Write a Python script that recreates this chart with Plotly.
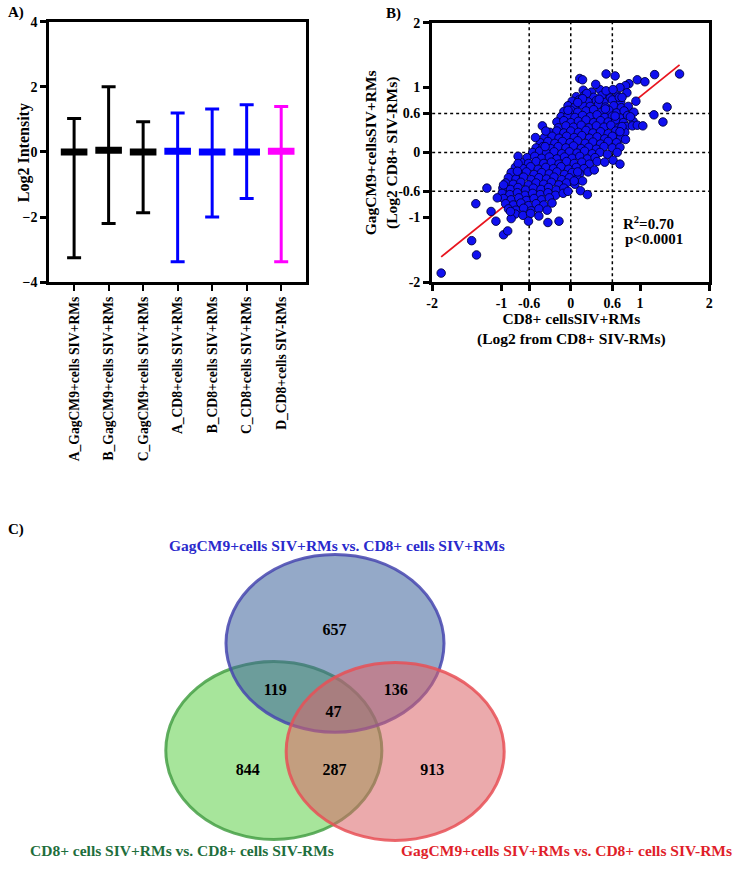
import plotly.graph_objects as go

W, H = 740, 870
FONT = "Liberation Serif"

# ---------------- Panel A data ----------------
a_categories = ["A_GagCM9+cells SIV+RMs", "B_GagCM9+cells SIV+RMs", "C_GagCM9+cells SIV+RMs",
                "A_CD8+cells SIV+RMs", "B_CD8+cells SIV+RMs", "C_CD8+cells SIV+RMs",
                "D_CD8+cells SIV-RMs"]
a_mean = [0.0, 0.05, 0.0, 0.02, 0.0, 0.0, 0.02]
a_max = [1.03, 2.0, 0.93, 1.2, 1.32, 1.45, 1.4]
a_min = [-3.25, -2.2, -1.87, -3.37, -2.0, -1.43, -3.37]
a_colors = ["#000000", "#000000", "#000000", "#0000ff", "#0000ff", "#0000ff", "#ff00ff"]
a_ticks = [-4, -2, 0, 2, 4]

# ---------------- Panel B data ----------------
b_ticks = [-2, -1, -0.6, 0, 0.6, 1, 2]
b_ticktext = ["-2", "-1", "-0.6", "0", "0.6", "1", "2"]
b_refs = [-0.6, 0, 0.6]
fit_x = [-1.87, 1.57]
fit_y = [-1.61, 1.35]

blob_x = [
    0.18, 0.3, 0.42, 0.55,
    0.08, 0.2, 0.33, 0.45, 0.57, 0.68,
    0.02, 0.12, 0.25, 0.37, 0.48, 0.6, 0.72,
    -0.04, 0.06, 0.17, 0.28, 0.4, 0.5, 0.62, 0.73, 0.83,
    -0.1, 0.0, 0.1, 0.22, 0.33, 0.44, 0.55, 0.66, 0.77,
    -0.14, -0.04, 0.06, 0.17, 0.28, 0.38, 0.49, 0.6, 0.71, 0.82,
    -0.2, -0.1, 0.0, 0.11, 0.22, 0.33, 0.43, 0.54, 0.65, 0.76, 0.9,
    -0.18, -0.07, 0.04, 0.15, 0.26, 0.37, 0.48, 0.58, 0.69, 0.8,
    -0.3, -0.2, -0.1, 0.0, 0.11, 0.22, 0.32, 0.43, 0.54, 0.65, 0.78,
    -0.38, -0.27, -0.17, -0.06, 0.05, 0.16, 0.27, 0.38, 0.49, 0.6, 0.72,
    -0.44, -0.33, -0.23, -0.12, -0.01, 0.1, 0.21, 0.32, 0.43, 0.54, 0.66,
    -0.5, -0.4, -0.29, -0.18, -0.07, 0.04, 0.15, 0.26, 0.37, 0.48, 0.6,
    -0.55, -0.45, -0.35, -0.24, -0.13, -0.02, 0.09, 0.2, 0.31, 0.42, 0.53,
    -0.63, -0.52, -0.42, -0.31, -0.2, -0.09, 0.02, 0.13, 0.24, 0.35,
    -0.72, -0.61, -0.5, -0.39, -0.28, -0.17, -0.06, 0.05, 0.16, 0.27, 0.38,
    -0.8, -0.69, -0.58, -0.47, -0.36, -0.25, -0.14, -0.03, 0.08, 0.19,
    -0.86, -0.75, -0.64, -0.53, -0.42, -0.31, -0.2, -0.09, 0.02, 0.13, 0.25,
    -0.9, -0.79, -0.68, -0.57, -0.46, -0.35, -0.24, -0.13, -0.02, 0.1,
    -0.94, -0.83, -0.72, -0.61, -0.5, -0.39, -0.28, -0.17, -0.06, 0.06,
    -0.98, -0.87, -0.76, -0.65, -0.54, -0.43, -0.32, -0.21, -0.1,
    -0.99, -0.88, -0.77, -0.66, -0.55, -0.44, -0.33, -0.22, -0.11,
    -0.97, -0.86, -0.75, -0.64, -0.53, -0.42, -0.31,
    -0.94, -0.83, -0.72, -0.61, -0.5, -0.39, -0.27,
    -0.9, -0.79, -0.68, -0.57, -0.46, -0.34,
    -0.8, -0.69, -0.58, -0.46,
]
blob_y = [
    0.96, 0.93, 0.97, 0.9,
    0.86, 0.88, 0.85, 0.88, 0.84, 0.87,
    0.79, 0.81, 0.78, 0.8, 0.77, 0.81, 0.78,
    0.72, 0.7, 0.73, 0.71, 0.74, 0.7, 0.72, 0.69, 0.71,
    0.63, 0.65, 0.62, 0.64, 0.66, 0.62, 0.65, 0.61, 0.64,
    0.55, 0.57, 0.54, 0.57, 0.55, 0.58, 0.54, 0.56, 0.53, 0.57,
    0.47, 0.49, 0.46, 0.48, 0.5, 0.46, 0.49, 0.47, 0.5, 0.46, 0.48,
    0.38, 0.41, 0.39, 0.42, 0.38, 0.41, 0.39, 0.42, 0.38, 0.4,
    0.31, 0.33, 0.3, 0.33, 0.31, 0.34, 0.3, 0.32, 0.29, 0.33, 0.31,
    0.23, 0.25, 0.22, 0.25, 0.23, 0.26, 0.22, 0.24, 0.21, 0.25, 0.22,
    0.15, 0.17, 0.14, 0.17, 0.15, 0.18, 0.14, 0.16, 0.13, 0.17, 0.15,
    0.07, 0.09, 0.06, 0.09, 0.07, 0.1, 0.06, 0.08, 0.05, 0.09, 0.07,
    0.0, 0.02, -0.01, 0.01, -0.02, 0.01, -0.01, 0.02, -0.02, 0.0, -0.03,
    -0.08, -0.06, -0.09, -0.07, -0.1, -0.07, -0.09, -0.06, -0.1, -0.08,
    -0.15, -0.17, -0.14, -0.17, -0.15, -0.18, -0.14, -0.17, -0.15, -0.18, -0.14,
    -0.23, -0.25, -0.22, -0.26, -0.23, -0.25, -0.22, -0.26, -0.23, -0.25,
    -0.31, -0.33, -0.3, -0.34, -0.31, -0.33, -0.3, -0.34, -0.31, -0.33, -0.3,
    -0.39, -0.41, -0.38, -0.42, -0.39, -0.41, -0.38, -0.42, -0.39, -0.41,
    -0.47, -0.49, -0.46, -0.5, -0.47, -0.49, -0.46, -0.5, -0.47, -0.49,
    -0.55, -0.57, -0.54, -0.58, -0.55, -0.57, -0.54, -0.58, -0.55,
    -0.63, -0.65, -0.62, -0.66, -0.63, -0.65, -0.62, -0.66, -0.63,
    -0.71, -0.73, -0.7, -0.74, -0.71, -0.73, -0.7,
    -0.79, -0.81, -0.78, -0.82, -0.79, -0.81, -0.78,
    -0.87, -0.89, -0.86, -0.9, -0.87, -0.89,
    -0.95, -0.97, -0.94, -0.98,
]
outlier_x = [
    0.13, 0.17, 0.51, 0.64, 0.36, 0.96, 1.07, 1.21, 1.57, 0.84, 0.79, 0.71, 0.51, 0.61,
    0.81, 0.7, 0.74, 0.23, 0.41, 0.94, 1.39, 0.91, 1.2, 0.86, 1.33, 0.89, 0.96, 1.04,
    0.74, 0.17, 0.1, 0.5, 0.64, 0.71, 0.79, 0.71, 0.67,
    0.61, 0.49, 0.71, 0.34, 0.14, 0.24, -0.04, 0.17, 0.05, 0.1,
    -0.17, -0.33, -0.61, -0.97, -0.91, -1.08, -1.15, -1.37, -1.21, -0.97, -1.06, -0.86,
    -0.87, -1.87, -1.36, -1.43,
    -0.76, -0.76, -0.77, -0.51, -0.41, -0.36, -0.37, -0.04,
]
outlier_y = [
    1.14, 1.12, 1.21, 1.18, 1.05, 1.12, 1.09, 1.2, 1.21, 1.06, 1.03, 1.0, 0.95, 0.97,
    0.92, 0.85, 0.85, 0.91, 0.82, 0.79, 0.7, 0.62, 0.58, 0.55, 0.47, 0.41, 0.42, 0.41,
    0.4, 0.83, 0.77, 0.67, 0.56, 0.32, 0.2, 0.08, 0.0,
    -0.12, -0.15, -0.18, -0.27, -0.59, -0.65, -0.6, -0.44, -0.44, -0.3,
    -1.06, -1.08, -1.06, -1.27, -1.21, -1.06, -0.91, -0.79, -0.55, -0.5, -0.7, -1.02,
    -0.91, -1.86, -1.58, -1.36,
    -0.06, -0.17, -0.29, 0.23, 0.41, 0.33, 0.09, 0.65,
]
b_x = blob_x + outlier_x
b_y = blob_y + outlier_y
b_r2 = "R<sup>2</sup>=0.70"
b_p = "p<0.0001"

# ---------------- Panel C (Venn) data ----------------
venn_sets = ["GagCM9+cells SIV+RMs vs. CD8+ cells SIV+RMs",
             "CD8+ cells SIV+RMs vs. CD8+ cells SIV-RMs",
             "GagCM9+cells SIV+RMs vs. CD8+ cells SIV-RMs"]
venn_counts = [657, 119, 136, 47, 844, 287, 913]

# ---------------- layout helpers (pixel -> paper) ----------------
def fx(px):
    return px / W

def fy(py):
    return 1 - py / H

bold = dict(family=FONT, color="black", weight="bold")

fig = go.Figure()

# Panel A traces
for i, cat in enumerate(a_categories):
    fig.add_trace(go.Scatter(
        x=[cat], y=[a_mean[i]], mode="markers", xaxis="x", yaxis="y", showlegend=False,
        marker=dict(symbol="line-ew", size=19, color=a_colors[i],
                    line=dict(width=7, color=a_colors[i])),
        error_y=dict(type="data", symmetric=False, array=[a_max[i] - a_mean[i]],
                     arrayminus=[a_mean[i] - a_min[i]], color=a_colors[i],
                     thickness=3, width=7),
        hoverinfo="skip"))

# Panel B traces
fig.add_trace(go.Scatter(x=fit_x, y=fit_y, mode="lines", xaxis="x2", yaxis="y2",
                         line=dict(color="#e8141e", width=1.8), showlegend=False))
fig.add_trace(go.Scatter(x=b_x, y=b_y, mode="markers", xaxis="x2", yaxis="y2",
                         marker=dict(size=8.5, color="#1010f0",
                                     line=dict(width=0.9, color="#000040")),
                         showlegend=False))

# Panel C: Venn
venn_geom = {  # pixel layout: (cx, cy, rx, ry)
    "blue": (333.5, 647.5, 110.5, 90.5),
    "green": (271.5, 756.5, 109.5, 90.5),
    "red": (394.5, 757.5, 110.5, 90.5),
}
venn_style = {
    "green": ("rgba(95,208,73,0.55)", "rgba(70,160,70,0.85)"),
    "blue": ("rgba(61,99,155,0.55)", "rgba(70,70,175,0.85)"),
    "red": ("rgba(219,100,104,0.55)", "rgba(232,80,86,0.85)"),
}
shapes = []
for key in ["green", "blue", "red"]:
    cx, cy, rx, ry = venn_geom[key]
    fill, line = venn_style[key]
    shapes.append(dict(type="circle", xref="x3", yref="y3", x0=cx - rx, x1=cx + rx,
                       y0=cy - ry, y1=cy + ry, fillcolor=fill,
                       line=dict(color=line, width=3), layer="below"))

count_pos_x = [333, 273, 395, 332, 245, 333, 432]
count_pos_y = [635, 696, 696, 718, 777, 777, 777]
fig.add_trace(go.Scatter(x=count_pos_x, y=count_pos_y, mode="text", xaxis="x3", yaxis="y3",
                         text=[str(c) for c in venn_counts],
                         textfont=dict(family=FONT, size=16, color="black", weight="bold"),
                         showlegend=False, hoverinfo="skip"))

# Panel B dotted reference lines
for v in b_refs:
    shapes.append(dict(type="line", xref="x2", yref="y2 domain", x0=v, x1=v, y0=0, y1=1,
                       line=dict(color="black", width=1.5, dash="dot"), layer="below"))
    shapes.append(dict(type="line", xref="x2 domain", yref="y2", x0=0, x1=1, y0=v, y1=v,
                       line=dict(color="black", width=1.5, dash="dot"), layer="below"))

axis_common = dict(showline=True, linewidth=3, linecolor="black", mirror=True,
                   showgrid=False, zeroline=False, ticks="outside", tickcolor="black")

annotations = [
    dict(text="A)", x=fx(0), y=fy(6), xref="paper", yref="paper", xanchor="left",
         yanchor="middle", showarrow=False, font=dict(bold, size=15)),
    dict(text="B)", x=fx(383), y=fy(7), xref="paper", yref="paper", xanchor="left",
         yanchor="middle", showarrow=False, font=dict(bold, size=15)),
    dict(text="C)", x=fx(0), y=fy(532), xref="paper", yref="paper", xanchor="left",
         yanchor="middle", showarrow=False, font=dict(bold, size=15)),
    dict(text="Log2 Intensity", x=fx(19), y=fy(148), xref="paper", yref="paper",
         textangle=-90, showarrow=False, xanchor="center", yanchor="middle",
         font=dict(bold, size=16)),
    dict(text="GagCM9+cellsSIV+RMs<br>(Log2 CD8+ SIV-RMs)", x=fx(381), y=fy(148),
         xref="paper", yref="paper", textangle=-90, showarrow=False, xanchor="center",
         yanchor="middle", font=dict(bold, size=15.5)),
    dict(text="CD8+ cellsSIV+RMs<br>(Log2 from CD8+ SIV-RMs)", x=fx(573), y=fy(328),
         xref="paper", yref="paper", showarrow=False, xanchor="center", yanchor="middle",
         font=dict(bold, size=15.5)),
    dict(text=b_r2, x=fx(651), y=fy(220), xref="paper", yref="paper", showarrow=False,
         xanchor="center", yanchor="middle", font=dict(bold, size=15)),
    dict(text=b_p, x=fx(657), y=fy(236), xref="paper", yref="paper", showarrow=False,
         xanchor="center", yanchor="middle", font=dict(bold, size=15)),
    dict(text=venn_sets[0], x=336, y=548, xref="x3", yref="y3", showarrow=False,
         xanchor="center", yanchor="middle",
         font=dict(family=FONT, size=15.5, color="#2a2acc", weight="bold")),
    dict(text=venn_sets[1], x=178, y=858, xref="x3", yref="y3", showarrow=False,
         xanchor="center", yanchor="middle",
         font=dict(family=FONT, size=15.5, color="#1e6e3c", weight="bold")),
    dict(text=venn_sets[2], x=738, y=858, xref="x3", yref="y3", showarrow=False,
         xanchor="right", yanchor="middle",
         font=dict(family=FONT, size=15.5, color="#e01e2a", weight="bold")),
]

fig.update_layout(
    width=W, height=H, margin=dict(l=0, r=0, t=0, b=0),
    paper_bgcolor="white", plot_bgcolor="white", showlegend=False,
    xaxis=dict(axis_common, domain=[fx(44), fx(304)], anchor="y", type="category",
               categoryorder="array", categoryarray=a_categories, tickangle=-90,
               ticklen=6, tickwidth=2, tickfont=dict(bold, size=13.6)),
    yaxis=dict(axis_common, domain=[fy(280), fy(15)], anchor="x", range=[-4, 4],
               tickvals=a_ticks, ticklen=6, tickwidth=3, tickfont=dict(bold, size=14)),
    xaxis2=dict(axis_common, domain=[fx(432), fx(713)], anchor="y2", range=[-2, 2],
                tickvals=b_ticks, ticktext=b_ticktext, ticklen=6, tickwidth=3,
                tickfont=dict(bold, size=14)),
    yaxis2=dict(axis_common, domain=[fy(280), fy(16)], anchor="x2", range=[-2, 2],
                tickvals=b_ticks, ticktext=b_ticktext, ticklen=6, tickwidth=3,
                tickfont=dict(bold, size=14)),
    xaxis3=dict(domain=[0, 1], anchor="y3", range=[0, W], visible=False, fixedrange=True),
    yaxis3=dict(domain=[0, fy(470)], anchor="x3", range=[H, 470], visible=False,
                fixedrange=True),
    shapes=shapes,
    annotations=annotations,
)

fig.write_html("out.html",
               config={"displayModeBar": False},
               post_script="document.body.style.margin='0';"
                           "document.body.style.overflow='hidden';")
